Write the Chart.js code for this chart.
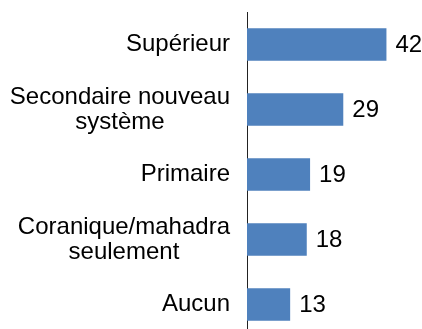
<!DOCTYPE html>
<html>
<head>
<meta charset="utf-8">
<script src="https://cdn.jsdelivr.net/npm/chart.js@4/dist/chart.umd.min.js"></script>
<style>
  html, body { margin: 0; padding: 0; background: #fff; overflow: hidden; }
  #wrap { width: 422px; height: 337px; }
</style>
</head>
<body>
<div id="wrap"><canvas id="levelChart"></canvas></div>
<script>
    // education level, share in %
    var categories = [
        ['Supérieur'],
        ['Secondaire nouveau', 'système'],
        ['Primaire'],
        ['Coranique/mahadra', 'seulement'],
        ['Aucun']
    ];
    var values = [42, 29, 19, 18, 13];

    var FONT = '24px "Liberation Sans", Arial, sans-serif';

    // category names to the left of the axis, value after each bar
    var textPlugin = {
        id: 'barText',
        afterDatasetsDraw: function (chart) {
            var ctx = chart.ctx;
            var y = chart.scales.y;
            var meta = chart.getDatasetMeta(0);
            ctx.save();
            ctx.font = FONT;
            ctx.fillStyle = '#000';
            ctx.textBaseline = 'middle';

            categories.forEach(function (lines, i) {
                var cy = y.getPixelForValue(i);
                var right = chart.chartArea.left - 17;
                var lh = 25;
                var maxW = 0;
                lines.forEach(function (l) { maxW = Math.max(maxW, ctx.measureText(l).width); });
                var top = cy - (lines.length - 1) * lh / 2;
                lines.forEach(function (l, k) {
                    if (lines.length > 1) {
                        ctx.textAlign = 'center';
                        ctx.fillText(l, right - maxW / 2, top + k * lh);
                    } else {
                        ctx.textAlign = 'right';
                        ctx.fillText(l, right, top + k * lh);
                    }
                });
            });

            ctx.textAlign = 'left';
            meta.data.forEach(function (bar, i) {
                ctx.fillText(String(values[i]), bar.x + 9, bar.y + 1);
            });
            ctx.restore();
        }
    };

    new Chart(document.getElementById('levelChart'), {
        type: 'bar',
        data: {
            labels: categories.map(function (c) { return c.join(' '); }),
            datasets: [{
                data: values,
                backgroundColor: '#4f81bd',
                borderWidth: 0,
                categoryPercentage: 1,
                barPercentage: 0.5
            }]
        },
        options: {
            indexAxis: 'y',
            responsive: true,
            maintainAspectRatio: false,
            animation: false,
            layout: { padding: { top: 12, right: 9, bottom: 0, left: 0 } },
            plugins: {
                legend: { display: false },
                tooltip: { enabled: false }
            },
            scales: {
                x: {
                    display: false,
                    min: 0,
                    max: 50
                },
                y: {
                    grid: { display: false },
                    border: { display: true, color: '#222', width: 1 },
                    ticks: { display: false },
                    afterFit: function (scale) { scale.width = 247; }
                }
            }
        },
        plugins: [textPlugin]
    });
</script>
</body>
</html>
